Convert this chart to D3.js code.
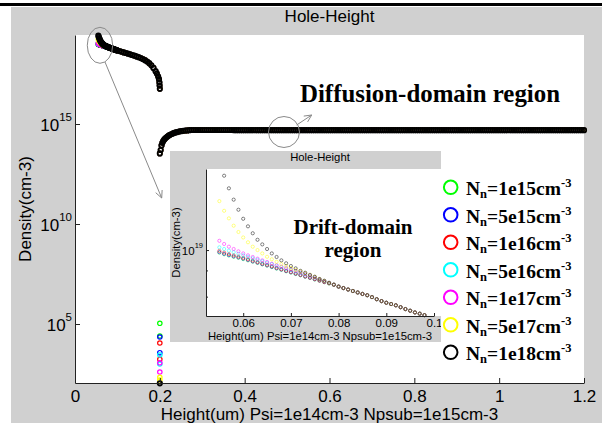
<!DOCTYPE html>
<html>
<head>
<meta charset="utf-8">
<script src="https://cdn.jsdelivr.net/npm/d3@7"></script>
<style>
  body { margin: 0; background: #fff; }
  svg { display: block; }
</style>
</head>
<body>
<div id="container"></div>
<script>
// doping of the n region, one series each
const seriesNames = ["1e15", "5e15", "1e16", "5e16", "1e17", "5e17", "1e18"];
const seriesColors = ["#00ff00", "#0000ff", "#ff0000", "#00ffff", "#ff00ff", "#ffff00", "#000000"];

// first points (um), here every series has its own curve
const xHead = [0.055, 0.056, 0.057, 0.058, 0.059, 0.06, 0.061, 0.062, 0.063, 0.064, 0.065, 0.066, 0.067,
  0.068, 0.069, 0.07, 0.071, 0.072, 0.073, 0.074, 0.075, 0.076, 0.077, 0.078, 0.079];

// log10 of hole density (cm-3)
const headLog = [
  [18.988, 18.980, 18.974, 18.968, 18.963, 18.957, 18.951, 18.945, 18.939, 18.932, 18.926, 18.919, 18.912, 18.906, 18.899, 18.893, 18.886, 18.880, 18.873, 18.867, 18.860, 18.854, 18.847, 18.841, 18.835],
  [18.990, 18.982, 18.976, 18.970, 18.965, 18.959, 18.953, 18.946, 18.940, 18.933, 18.927, 18.920, 18.913, 18.907, 18.900, 18.894, 18.887, 18.881, 18.874, 18.868, 18.861, 18.855, 18.848, 18.842, 18.835],
  [18.996, 18.988, 18.981, 18.975, 18.969, 18.963, 18.956, 18.950, 18.943, 18.936, 18.930, 18.923, 18.916, 18.909, 18.902, 18.896, 18.889, 18.882, 18.875, 18.869, 18.862, 18.855, 18.848, 18.842, 18.835],
  [19.013, 19.005, 18.997, 18.990, 18.982, 18.975, 18.968, 18.961, 18.954, 18.947, 18.940, 18.933, 18.926, 18.919, 18.912, 18.905, 18.898, 18.891, 18.884, 18.877, 18.869, 18.861, 18.852, 18.844, 18.835],
  [19.044, 19.029, 19.016, 19.005, 18.994, 18.984, 18.975, 18.967, 18.959, 18.951, 18.943, 18.935, 18.928, 18.921, 18.914, 18.907, 18.900, 18.893, 18.886, 18.878, 18.870, 18.861, 18.852, 18.844, 18.835],
  [19.233, 19.187, 19.151, 19.116, 19.086, 19.060, 19.037, 19.016, 19.000, 18.984, 18.968, 18.956, 18.944, 18.933, 18.924, 18.915, 18.906, 18.898, 18.890, 18.881, 18.872, 18.862, 18.853, 18.844, 18.835],
  [19.415, 19.354, 19.294, 19.240, 19.192, 19.149, 19.113, 19.080, 19.049, 19.027, 19.005, 18.984, 18.967, 18.951, 18.937, 18.924, 18.913, 18.901, 18.892, 18.882, 18.873, 18.862, 18.854, 18.844, 18.835]
];

// drift region after that: all series lie on one curve
const xTail = [0.08, 0.081, 0.082, 0.083, 0.084, 0.085, 0.086, 0.087, 0.088, 0.089, 0.09, 0.091, 0.092, 0.093,
  0.094, 0.095, 0.096, 0.097, 0.098, 0.099, 0.1,
  0.105, 0.11, 0.115, 0.12, 0.125, 0.13, 0.135, 0.14, 0.145, 0.15, 0.155, 0.16, 0.165, 0.17, 0.175, 0.18,
  0.185, 0.19, 0.193, 0.196, 0.198, 0.199, 0.1995, 0.2];
const tailLog = [18.826, 18.819, 18.812, 18.805, 18.798, 18.791, 18.785, 18.776, 18.766, 18.757, 18.749, 18.743,
  18.737, 18.728, 18.719, 18.711, 18.703, 18.697, 18.690, 18.683, 18.676,
  18.645, 18.613, 18.581, 18.549, 18.516, 18.483, 18.449, 18.414, 18.378, 18.340, 18.298, 18.250, 18.193,
  18.125, 18.040, 17.935, 17.805, 17.640, 17.520, 17.370, 17.240, 17.080, 16.920, 16.760];

// points sitting at the junction (x = 0.2)
const depletionLog = [[5.035, 4.40], [4.35, 3.565], [4.05, 3.235], [3.45, 3.0], [3.06, 2.6], [2.335, 2.2], [2.035]];

// diffusion region, same for every series
const xDiff = [0.2, 0.202, 0.204, 0.206, 0.208, 0.21, 0.212, 0.215, 0.218, 0.221, 0.224, 0.228, 0.232, 0.236, 0.24,
  0.245, 0.25, 0.255, 0.26, 0.265, 0.27, 0.275, 0.28, 0.285, 0.29, 0.295, 0.3,
  0.305, 0.31, 0.315, 0.32, 0.325, 0.33, 0.335, 0.34, 0.345, 0.35, 0.355, 0.36, 0.365, 0.37, 0.375, 0.38, 0.385, 0.39, 0.395, 0.4,
  0.405, 0.41, 0.415, 0.42, 0.425, 0.43, 0.435, 0.44, 0.445, 0.45, 0.455, 0.46, 0.465, 0.47, 0.475, 0.48, 0.485, 0.49, 0.495, 0.5,
  0.505, 0.51, 0.515, 0.52, 0.525, 0.53, 0.535, 0.54, 0.545, 0.55, 0.555, 0.56, 0.565, 0.57, 0.575, 0.58, 0.585, 0.59, 0.595, 0.6,
  0.605, 0.61, 0.615, 0.62, 0.625, 0.63, 0.635, 0.64, 0.645, 0.65, 0.655, 0.66, 0.665, 0.67, 0.675, 0.68, 0.685, 0.69, 0.695, 0.7,
  0.705, 0.71, 0.715, 0.72, 0.725, 0.73, 0.735, 0.74, 0.745, 0.75, 0.755, 0.76, 0.765, 0.77, 0.775, 0.78, 0.785, 0.79, 0.795, 0.8,
  0.805, 0.81, 0.815, 0.82, 0.825, 0.83, 0.835, 0.84, 0.845, 0.85, 0.855, 0.86, 0.865, 0.87, 0.875, 0.88, 0.885, 0.89, 0.895, 0.9,
  0.905, 0.91, 0.915, 0.92, 0.925, 0.93, 0.935, 0.94, 0.945, 0.95, 0.955, 0.96, 0.965, 0.97, 0.975, 0.98, 0.985, 0.99, 0.995, 1,
  1.005, 1.01, 1.015, 1.02, 1.025, 1.03, 1.035, 1.04, 1.045, 1.05, 1.055, 1.06, 1.065, 1.07, 1.075, 1.08, 1.085, 1.09, 1.095, 1.1,
  1.105, 1.11, 1.115, 1.12, 1.125, 1.13, 1.135, 1.14, 1.145, 1.15, 1.155, 1.16, 1.165, 1.17, 1.175, 1.18, 1.185, 1.19, 1.195, 1.2];
const diffLog = [13.53, 13.70, 13.93, 14.06, 14.15, 14.21, 14.26, 14.32, 14.37, 14.42, 14.46, 14.50, 14.54, 14.57, 14.59,
  14.62, 14.64, 14.66, 14.67, 14.68, 14.69, 14.70, 14.70, 14.70, 14.70, 14.70, 14.70,
  14.70, 14.70, 14.70, 14.70, 14.70, 14.70, 14.70, 14.70, 14.70, 14.70, 14.70, 14.70, 14.70, 14.70, 14.69, 14.69, 14.69, 14.69, 14.69, 14.69,
  14.69, 14.69, 14.69, 14.69, 14.69, 14.69, 14.69, 14.69, 14.69, 14.69, 14.69, 14.69, 14.69, 14.69, 14.69, 14.69, 14.69, 14.69, 14.69, 14.69,
  14.69, 14.69, 14.69, 14.69, 14.69, 14.69, 14.69, 14.69, 14.69, 14.69, 14.69, 14.69, 14.69, 14.69, 14.69, 14.69, 14.69, 14.69, 14.69, 14.69,
  14.69, 14.69, 14.69, 14.69, 14.69, 14.69, 14.69, 14.69, 14.69, 14.69, 14.69, 14.69, 14.69, 14.69, 14.69, 14.69, 14.69, 14.69, 14.69, 14.69,
  14.69, 14.69, 14.69, 14.69, 14.69, 14.69, 14.69, 14.69, 14.69, 14.69, 14.69, 14.69, 14.69, 14.69, 14.69, 14.69, 14.69, 14.69, 14.69, 14.69,
  14.69, 14.69, 14.69, 14.69, 14.69, 14.69, 14.69, 14.69, 14.69, 14.69, 14.69, 14.69, 14.69, 14.69, 14.69, 14.69, 14.69, 14.69, 14.69, 14.69,
  14.69, 14.69, 14.69, 14.69, 14.69, 14.69, 14.69, 14.69, 14.69, 14.69, 14.69, 14.69, 14.69, 14.69, 14.69, 14.69, 14.69, 14.69, 14.69, 14.69,
  14.69, 14.69, 14.69, 14.69, 14.69, 14.69, 14.69, 14.69, 14.69, 14.69, 14.69, 14.69, 14.69, 14.69, 14.69, 14.69, 14.69, 14.69, 14.69, 14.69,
  14.69, 14.69, 14.69, 14.69, 14.69, 14.69, 14.69, 14.69, 14.69, 14.69, 14.69, 14.69, 14.69, 14.69, 14.69, 14.69, 14.69, 14.69, 14.69, 14.69];

const xTicks = [0, 0.2, 0.4, 0.6, 0.8, 1, 1.2];
const yTicks = [1e5, 1e10, 1e15];
const insetXTicks = [0.06, 0.07, 0.08, 0.09, 0.1];
const insetYTicks = [1e19];
const insetMinorTicks = [6e18, 8e18];

const width = 602, height = 423;
const figGray = "#d0d0d0";
const sans = "'Liberation Sans', Arial, sans-serif";
const serif = "'Liberation Serif', 'Times New Roman', serif";

const series = seriesNames.map((name, i) => {
  const pts = [];
  xHead.forEach((xv, j) => pts.push([xv, headLog[i][j]]));
  xTail.forEach((xv, j) => pts.push([xv, tailLog[j]]));
  depletionLog[i].forEach(v => pts.push([0.2, v]));
  xDiff.forEach((xv, j) => pts.push([xv, diffLog[j]]));
  return { name, color: seriesColors[i], pts };
});

const svg = d3.select("#container").append("svg")
  .attr("width", width)
  .attr("height", height);

svg.append("rect").attr("width", width).attr("height", height).attr("fill", "#fff");
svg.append("rect").attr("x", 0).attr("y", 3).attr("width", width).attr("height", 3).attr("fill", "#000");
svg.append("rect").attr("x", 11).attr("y", 7).attr("width", width - 11).attr("height", height - 7).attr("fill", figGray);

// main axes
const plot = { left: 75, right: 584, top: 35, bottom: 383 };
const x = d3.scaleLinear().domain([0, 1.2]).range([plot.left, plot.right]);
const y = d3.scaleLog().domain([10 ** 2.05, 10 ** 19.45]).range([plot.bottom, plot.top]);

svg.append("rect")
  .attr("x", plot.left).attr("y", plot.top)
  .attr("width", plot.right - plot.left).attr("height", plot.bottom - plot.top)
  .attr("fill", "#fff");

// the last (black) series is drawn a bit heavier so the colours under it do not bleed through
const main = svg.append("g");
series.forEach((s, i) => {
  main.append("g")
    .attr("fill", "none")
    .attr("stroke", s.color)
    .attr("stroke-width", i === series.length - 1 ? 1.8 : 1.2)
    .selectAll("circle")
    .data(s.pts)
    .join("circle")
    .attr("cx", d => x(d[0]))
    .attr("cy", d => y(10 ** d[1]))
    .attr("r", 2.2);
});

const xAxisG = svg.append("g")
  .attr("transform", `translate(0,${plot.bottom})`)
  .call(d3.axisBottom(x).tickValues(xTicks).tickSizeInner(-5).tickSizeOuter(0)
    .tickPadding(6.5).tickFormat(d3.format("~g")));

const yAxisG = svg.append("g")
  .attr("transform", `translate(${plot.left},0)`)
  .call(d3.axisLeft(y).tickValues(yTicks).tickSizeInner(-5).tickSizeOuter(0)
    .tickPadding(3).tickFormat(() => "10"));
yAxisG.selectAll(".tick text")
  .attr("dy", "0.41em")
  .append("tspan")
  .attr("dy", -10.5)
  .attr("font-size", 11.5)
  .text(d => Math.round(Math.log10(d)));

[xAxisG, yAxisG].forEach(g => {
  g.attr("font-size", 17).attr("font-family", sans);
  g.selectAll("path, line").attr("stroke", "#222");
  g.selectAll("text").attr("fill", "#000");
});

svg.append("text")
  .attr("x", (plot.left + plot.right) / 2).attr("y", 21.5)
  .attr("text-anchor", "middle")
  .attr("font-family", sans).attr("font-size", 17)
  .text("Hole-Height");

svg.append("text")
  .attr("x", (plot.left + plot.right) / 2).attr("y", 419.5)
  .attr("text-anchor", "middle")
  .attr("font-family", sans).attr("font-size", 17)
  .text("Height(um) Psi=1e14cm-3 Npsub=1e15cm-3");

svg.append("text")
  .attr("transform", `translate(31,${(plot.top + plot.bottom) / 2}) rotate(-90)`)
  .attr("text-anchor", "middle")
  .attr("font-family", sans).attr("font-size", 17)
  .text("Density(cm-3)");

// annotations: marks around the zoomed and the flat parts
const note = svg.append("g").attr("fill", "none").attr("stroke", "#8a8a8a").attr("stroke-width", 1);

function arrow(p0, p1) {
  note.append("line").attr("x1", p0[0]).attr("y1", p0[1]).attr("x2", p1[0]).attr("y2", p1[1]);
  const a = Math.atan2(p1[1] - p0[1], p1[0] - p0[0]);
  [-1, 1].forEach(sgn => {
    const b = a + Math.PI + sgn * 0.45;
    note.append("line")
      .attr("x1", p1[0]).attr("y1", p1[1])
      .attr("x2", p1[0] + 8 * Math.cos(b)).attr("y2", p1[1] + 8 * Math.sin(b));
  });
}

note.append("ellipse")
  .attr("cx", x(0.0589)).attr("cy", y(10 ** 18.935))
  .attr("rx", 12.7).attr("ry", 18);
arrow([x(0.0707), y(10 ** 18.1)], [x(0.2044), y(10 ** 11.3)]);

note.append("circle")
  .attr("cx", x(0.4927)).attr("cy", y(10 ** 14.6))
  .attr("r", 15.5);
arrow([x(0.5226), y(10 ** 14.95)], [x(0.558), y(10 ** 15.45)]);

svg.append("text")
  .attr("x", 300).attr("y", 102)
  .attr("font-family", serif).attr("font-weight", "bold").attr("font-size", 25)
  .attr("textLength", 260).attr("lengthAdjust", "spacingAndGlyphs")
  .text("Diffusion-domain region");

// inset: zoom on the drift region
const inset = { left: 170, top: 151, right: 441, bottom: 342 };
const ip = { left: 206, right: 434, fillRight: 441, top: 169, bottom: 316 };
const xi = d3.scaleLinear().domain([0.0522, 0.1]).range([ip.left, ip.right]);
const yi = d3.scaleLog().domain([10 ** 18.686, 10 ** 19.386]).range([ip.bottom, ip.top]);

svg.append("rect")
  .attr("x", inset.left).attr("y", inset.top)
  .attr("width", inset.right - inset.left).attr("height", inset.bottom - inset.top)
  .attr("fill", figGray);
svg.append("rect")
  .attr("x", ip.left).attr("y", ip.top)
  .attr("width", ip.fillRight - ip.left).attr("height", ip.bottom - ip.top)
  .attr("fill", "#fff");

const [yiLo, yiHi] = [18.686, 19.386];
series.forEach(s => {
  svg.append("g")
    .attr("fill", "none")
    .attr("stroke", s.color)
    .attr("stroke-opacity", 0.6)
    .attr("stroke-width", 0.8)
    .selectAll("circle")
    .data(s.pts.filter(d => d[0] <= 0.1015 && d[1] >= yiLo && d[1] <= yiHi))
    .join("circle")
    .attr("cx", d => xi(d[0]))
    .attr("cy", d => yi(10 ** d[1]))
    .attr("r", 1.6);
});

const ixG = svg.append("g")
  .attr("transform", `translate(0,${ip.bottom})`)
  .call(d3.axisBottom(xi).tickValues(insetXTicks).tickSizeInner(-3).tickSizeOuter(0)
    .tickPadding(2.5).tickFormat(d3.format("~g")));
const iyG = svg.append("g")
  .attr("transform", `translate(${ip.left},0)`)
  .call(d3.axisLeft(yi).tickValues(insetYTicks).tickSizeInner(-3).tickSizeOuter(0)
    .tickPadding(3).tickFormat(() => "10"));
iyG.selectAll(".tick text")
  .attr("dy", "0.35em")
  .append("tspan")
  .attr("dy", -6.5)
  .attr("font-size", 7.5)
  .text(d => Math.round(Math.log10(d)));
const iyMinor = svg.append("g")
  .attr("transform", `translate(${ip.left},0)`)
  .call(d3.axisLeft(yi).tickValues(insetMinorTicks).tickSizeInner(-2).tickSizeOuter(0).tickFormat(() => ""));
iyMinor.select(".domain").remove();

[ixG, iyG, iyMinor].forEach(g => {
  g.attr("font-size", 11.5).attr("font-family", sans);
  g.selectAll("path, line").attr("stroke", "#222");
  g.selectAll("text").attr("fill", "#000");
});

const icx = (ip.left + ip.right) / 2;
svg.append("text")
  .attr("x", icx).attr("y", 161)
  .attr("text-anchor", "middle")
  .attr("font-family", sans).attr("font-size", 11.3)
  .text("Hole-Height");
svg.append("text")
  .attr("x", icx).attr("y", 339.5)
  .attr("text-anchor", "middle")
  .attr("font-family", sans).attr("font-size", 11.3)
  .text("Height(um) Psi=1e14cm-3 Npsub=1e15cm-3");
svg.append("text")
  .attr("transform", `translate(179.5,${(ip.top + ip.bottom) / 2}) rotate(-90)`)
  .attr("text-anchor", "middle")
  .attr("font-family", sans).attr("font-size", 11.3)
  .text("Density(cm-3)");

const drift = svg.append("text")
  .attr("text-anchor", "middle")
  .attr("font-family", serif).attr("font-weight", "bold").attr("font-size", 21);
drift.append("tspan").attr("x", 353).attr("y", 234).text("Drift-domain");
drift.append("tspan").attr("x", 353).attr("y", 257).text("region");

// legend
const lg = { left: 441, top: 168, right: 583, bottom: 372, rowTop: 187.3, rowStep: 27.5 };
svg.append("rect")
  .attr("x", lg.left).attr("y", lg.top)
  .attr("width", lg.right - lg.left).attr("height", lg.bottom - lg.top)
  .attr("fill", "#fff");

const rows = svg.append("g").selectAll("g")
  .data(series)
  .join("g")
  .attr("transform", (d, i) => `translate(0,${lg.rowTop + i * lg.rowStep})`);

rows.append("circle")
  .attr("cx", 450.7).attr("cy", 0).attr("r", 6.8)
  .attr("fill", "none").attr("stroke", d => d.color).attr("stroke-width", 2);

const lt = rows.append("text")
  .attr("x", 466).attr("y", 8)
  .attr("font-family", serif).attr("font-weight", "bold").attr("font-size", 19.5);
lt.append("tspan").text("N");
lt.append("tspan").attr("font-size", 12.5).attr("dy", 3).text("n");
lt.append("tspan").attr("dy", -3).text(d => `=${d.name}cm`);
lt.append("tspan").attr("font-size", 12.5).attr("dy", -8).text("-3");
</script>
</body>
</html>
